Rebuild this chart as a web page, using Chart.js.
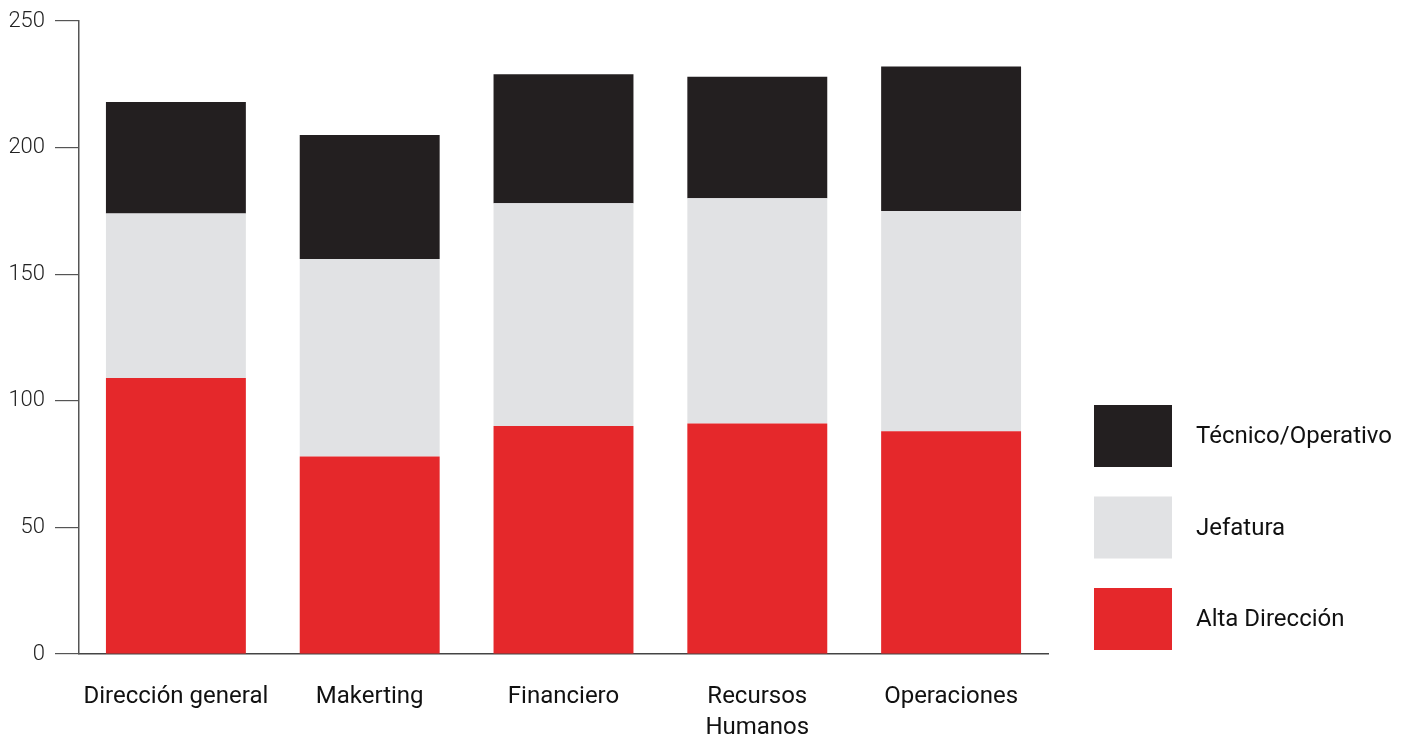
<!DOCTYPE html>
<html>
<head>
<meta charset="utf-8">
<script src="https://cdn.jsdelivr.net/npm/chart.js@4"></script>
<style>
  html, body { margin: 0; padding: 0; background: #ffffff; }
  #wrap { width: 1408px; height: 739px; }
</style>
</head>
<body>
<div id="wrap"><canvas id="c" width="1408" height="739"></canvas></div>
<script>
// Áreas de la empresa
const categories = ['Dirección general', 'Makerting', 'Financiero', ['Recursos', 'Humanos'], 'Operaciones'];

// Personas por nivel jerárquico en cada área
const altaDireccion = [109, 78, 90, 91, 88];
const jefatura = [65, 78, 88, 89, 87];
const tecnicoOperativo = [44, 49, 51, 48, 57];

const yTicks = [0, 50, 100, 150, 200, 250];

const seriesNames = ['Alta Dirección', 'Jefatura', 'Técnico/Operativo'];
const seriesColors = ['#e5282b', '#e1e2e4', '#231f20'];

const FONT = 'Roboto, "Noto Sans", sans-serif';

// Leyenda con cuadros grandes a la derecha del gráfico (de arriba abajo: último conjunto primero)
const sideLegend = {
  id: 'sideLegend',
  afterDraw(chart) {
    const ctx = chart.ctx;
    const sets = chart.data.datasets.slice().reverse();
    const boxX = 1094, boxW = 78, boxH = 62, firstY = 405, step = 91.5;
    ctx.save();
    ctx.font = '24px ' + FONT;
    ctx.textBaseline = 'middle';
    ctx.textAlign = 'left';
    sets.forEach((ds, i) => {
      const y = firstY + i * step;
      ctx.fillStyle = ds.backgroundColor;
      ctx.fillRect(boxX, y, boxW, boxH);
      ctx.fillStyle = '#111111';
      ctx.fillText(ds.label, boxX + boxW + 24, y + boxH / 2 + 1);
    });
    ctx.restore();
  }
};

new Chart(document.getElementById('c'), {
  type: 'bar',
  data: {
    labels: categories,
    datasets: [
      { label: seriesNames[0], data: altaDireccion, backgroundColor: seriesColors[0] },
      { label: seriesNames[1], data: jefatura, backgroundColor: seriesColors[1] },
      { label: seriesNames[2], data: tecnicoOperativo, backgroundColor: seriesColors[2] }
    ]
  },
  options: {
    responsive: false,
    animation: false,
    devicePixelRatio: 1,
    layout: { padding: { top: 6, right: 360, bottom: 0, left: 0 } },
    datasets: {
      bar: { barPercentage: 0.722, categoryPercentage: 1, borderWidth: 0 }
    },
    plugins: {
      legend: { display: false },
      tooltip: { enabled: false }
    },
    scales: {
      x: {
        stacked: true,
        afterFit(axis) { axis.height = 85; },
        grid: { display: false, drawTicks: false },
        border: { display: true, color: '#444444', width: 1.5 },
        ticks: {
          color: '#111111',
          padding: 27,
          maxRotation: 0,
          autoSkip: false,
          font: { family: FONT, size: 24, lineHeight: 1.3 }
        }
      },
      y: {
        stacked: true,
        min: 0,
        max: 250,
        afterBuildTicks(axis) { axis.ticks = yTicks.map(v => ({ value: v })); },
        afterFit(axis) { axis.width = 79; },
        grid: { drawOnChartArea: false, drawTicks: true, tickLength: 24, color: '#555555', lineWidth: 1.2 },
        border: { display: true, color: '#555555', width: 1.5 },
        ticks: {
          color: '#222222',
          padding: 10,
          font: { family: FONT, size: 22, weight: '300', lineHeight: 1.0 }
        }
      }
    }
  },
  plugins: [sideLegend]
});
</script>
</body>
</html>
